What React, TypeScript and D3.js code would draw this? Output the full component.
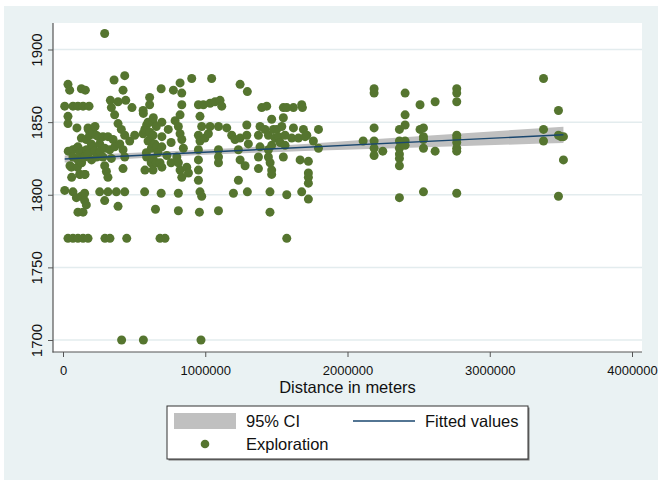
import React, { useEffect, useRef } from 'react'
import * as d3 from 'd3'

const yTicks = [1700, 1750, 1800, 1850, 1900]
const xTicks = [0, 1000000, 2000000, 3000000, 4000000]
const xTitle = 'Distance in meters'
const legendLabels = ['95% CI', 'Fitted values', 'Exploration']

// fitted line and 95% CI
const fitX = [12000, 3518000]
const fitY = [1824.6, 1841.3]
const ciX = [12000, 500000, 1000000, 1700000, 2500000, 3518000]
const ciLow = [1822.2, 1824.9, 1827.5, 1830.2, 1832.6, 1835.7]
const ciHigh = [1827.0, 1828.9, 1831.1, 1835.0, 1840.2, 1846.9]

// [distance in meters, value]
const exploration: [number, number][] = [
  [12000, 1861], [12000, 1803], [35000, 1876], [47000, 1872], [35000, 1854], [35000, 1849],
  [37000, 1830], [49000, 1820], [61000, 1812], [59000, 1819], [70000, 1861], [70000, 1831],
  [70000, 1826], [70000, 1802], [98000, 1846], [96000, 1832], [101000, 1819], [94000, 1798],
  [105000, 1861], [105000, 1833], [105000, 1824], [105000, 1788], [117000, 1814], [120000, 1829],
  [120000, 1814], [129000, 1873], [129000, 1839], [129000, 1799], [131000, 1822], [141000, 1861],
  [141000, 1830], [141000, 1788], [143000, 1826], [152000, 1826], [152000, 1814], [152000, 1801],
  [152000, 1796], [155000, 1814], [157000, 1872], [164000, 1838], [164000, 1793], [166000, 1831],
  [176000, 1846], [176000, 1828], [178000, 1845], [183000, 1861], [187000, 1841], [199000, 1835],
  [201000, 1824], [210000, 1843], [213000, 1833], [222000, 1830], [225000, 1847], [234000, 1841],
  [237000, 1826], [248000, 1840], [258000, 1835], [258000, 1802], [260000, 1830],
  [281000, 1840], [281000, 1826], [293000, 1911], [293000, 1832], [293000, 1820], [293000, 1796],
  [305000, 1816], [316000, 1840], [316000, 1812], [316000, 1802], [328000, 1831], [333000, 1865],
  [340000, 1860], [340000, 1825], [352000, 1838], [359000, 1879], [363000, 1855], [363000, 1833],
  [375000, 1802], [387000, 1864], [387000, 1849], [387000, 1792], [399000, 1835], [410000, 1845],
  [422000, 1872], [422000, 1831], [422000, 1818], [434000, 1882], [434000, 1841], [434000, 1826],
  [434000, 1802], [441000, 1865], [469000, 1837], [485000, 1860], [504000, 1841],
  [563000, 1858], [563000, 1842], [565000, 1856], [574000, 1802], [575000, 1845], [576000, 1817],
  [586000, 1829], [588000, 1848], [588000, 1826], [598000, 1850], [598000, 1837], [609000, 1862],
  [609000, 1867], [610000, 1843], [612000, 1838], [620000, 1822], [621000, 1832], [633000, 1850],
  [633000, 1841], [633000, 1825], [633000, 1817], [635000, 1853], [645000, 1835], [650000, 1790],
  [656000, 1847], [656000, 1822], [659000, 1833], [668000, 1829], [682000, 1822], [690000, 1873],
  [695000, 1850], [695000, 1840], [695000, 1833], [695000, 1819], [690000, 1801],
  [740000, 1845], [760000, 1836], [730000, 1827], [760000, 1822], [776000, 1872], [788000, 1851],
  [800000, 1826], [811000, 1847], [811000, 1822], [811000, 1801], [811000, 1789], [823000, 1877],
  [823000, 1855], [823000, 1842], [823000, 1817], [835000, 1870], [835000, 1862], [835000, 1838],
  [835000, 1812], [846000, 1832], [870000, 1819], [882000, 1815], [905000, 1880], [952000, 1862],
  [952000, 1841], [952000, 1831], [952000, 1824], [952000, 1817], [952000, 1810], [959000, 1788],
  [963000, 1854], [963000, 1837], [963000, 1802], [975000, 1847], [975000, 1799], [987000, 1862],
  [998000, 1839],
  [1022000, 1842], [1034000, 1863], [1034000, 1847], [1045000, 1880], [1069000, 1864], [1093000, 1847],
  [1093000, 1831], [1093000, 1826], [1093000, 1822], [1093000, 1789], [1104000, 1865], [1116000, 1861],
  [1151000, 1846], [1186000, 1841], [1198000, 1801], [1209000, 1838], [1233000, 1831], [1233000, 1810],
  [1245000, 1876], [1245000, 1839], [1245000, 1824], [1280000, 1820], [1292000, 1848], [1292000, 1841],
  [1296000, 1871], [1296000, 1802], [1303000, 1835], [1374000, 1841], [1374000, 1826], [1374000, 1818],
  [1385000, 1847], [1385000, 1833], [1397000, 1860],
  [1420000, 1845], [1432000, 1861], [1444000, 1841], [1444000, 1831], [1444000, 1826], [1455000, 1802],
  [1455000, 1788], [1456000, 1822], [1467000, 1852], [1467000, 1834], [1467000, 1817], [1467000, 1814],
  [1479000, 1845], [1491000, 1839], [1502000, 1845], [1514000, 1840], [1526000, 1836], [1538000, 1847],
  [1549000, 1860], [1549000, 1853], [1549000, 1826], [1561000, 1841], [1561000, 1834], [1573000, 1860],
  [1573000, 1800], [1573000, 1770], [1608000, 1839], [1620000, 1860], [1620000, 1846], [1655000, 1839],
  [1667000, 1824], [1678000, 1862], [1683000, 1860], [1678000, 1802], [1690000, 1845], [1702000, 1840],
  [1714000, 1841], [1725000, 1823], [1725000, 1815], [1725000, 1812], [1725000, 1808], [1725000, 1797],
  [1760000, 1837], [1796000, 1845], [1796000, 1832],
  [2110000, 1837], [2187000, 1873], [2187000, 1870], [2187000, 1846], [2187000, 1837], [2187000, 1832],
  [2187000, 1827], [2248000, 1830], [2365000, 1845], [2365000, 1837], [2365000, 1832], [2365000, 1828],
  [2365000, 1825], [2365000, 1820], [2365000, 1798], [2405000, 1870], [2405000, 1855], [2405000, 1848],
  [2405000, 1837], [2405000, 1834], [2510000, 1862], [2510000, 1845], [2534000, 1846], [2534000, 1840],
  [2534000, 1838], [2534000, 1832], [2534000, 1802], [2616000, 1864], [2616000, 1830],
  [2768000, 1873], [2768000, 1870], [2768000, 1864], [2768000, 1841], [2768000, 1839], [2768000, 1836],
  [2768000, 1832], [2768000, 1830], [2768000, 1801], [3378000, 1880], [3378000, 1845], [3378000, 1837],
  [3483000, 1858], [3483000, 1841], [3500000, 1840], [3518000, 1840], [3518000, 1824], [3483000, 1799],
  [35000, 1770], [70000, 1770], [105000, 1770], [141000, 1770], [176000, 1770], [295000, 1770],
  [330000, 1770], [448000, 1770], [682000, 1770], [717000, 1770],
  [412000, 1700], [565000, 1700], [970000, 1700],
]

const font = '"Liberation Sans", Arial, sans-serif'
const green = '#55752f'
const navy = '#1a476f'

const App = () => {
  const refSvg = useRef<SVGSVGElement>(null)

  useEffect(() => {
    const svg = d3.select(refSvg.current)
    svg.selectAll('*').remove()

    // outer + plot region
    svg.append('rect').attr('width', 658).attr('height', 480).attr('fill', '#ffffff')
    svg.append('rect').attr('x', 4).attr('y', 6).attr('width', 654).attr('height', 474).attr('fill', '#eaf2f3')
    svg.append('rect').attr('x', 53).attr('y', 23).attr('width', 589).attr('height', 329).attr('fill', '#ffffff')

    const x = d3.scaleLinear().domain([0, 4000000]).range([63, 632])
    const y = d3.scaleLinear().domain([1700, 1900]).range([340, 49.5])

    // gridlines
    svg
      .append('g')
      .selectAll('line')
      .data(yTicks)
      .join('line')
      .attr('x1', 53)
      .attr('x2', 642)
      .attr('y1', (d) => y(d))
      .attr('y2', (d) => y(d))
      .attr('stroke', '#e3ecee')
      .attr('stroke-width', 1.5)

    // y axis
    const gy = svg
      .append('g')
      .attr('transform', 'translate(53,0)')
      .call(d3.axisLeft(y).tickValues(yTicks).tickSize(5).tickFormat(d3.format('d')))
    gy.select('.domain').remove()
    gy.selectAll('line').attr('stroke', '#555')
    gy.selectAll('text')
      .attr('x', 0)
      .attr('y', -11)
      .attr('dy', 0)
      .attr('transform', 'rotate(-90)')
      .attr('text-anchor', 'middle')
      .attr('fill', '#111')
      .style('font-family', font)
      .style('font-size', '15px')

    // x axis
    const gx = svg
      .append('g')
      .attr('transform', 'translate(0,352)')
      .call(d3.axisBottom(x).tickValues(xTicks).tickSize(5).tickFormat(d3.format('d')))
    gx.select('.domain').remove()
    gx.selectAll('line').attr('stroke', '#555')
    gx.selectAll('text')
      .attr('y', 23)
      .attr('dy', 0)
      .attr('fill', '#111')
      .style('font-family', font)
      .style('font-size', '13px')

    svg.append('line').attr('x1', 53).attr('x2', 53).attr('y1', 23).attr('y2', 352.5).attr('stroke', '#555').attr('stroke-width', 1.2)
    svg.append('line').attr('x1', 52.5).attr('x2', 642).attr('y1', 352).attr('y2', 352).attr('stroke', '#555').attr('stroke-width', 1.2)

    svg
      .append('text')
      .attr('x', 347.5)
      .attr('y', 393)
      .attr('text-anchor', 'middle')
      .attr('fill', '#111')
      .style('font-family', font)
      .style('font-size', '16.5px')
      .text(xTitle)

    // 95% CI band
    const ci = ciX.map((cx, i) => ({ x: cx, lo: ciLow[i], hi: ciHigh[i] }))
    svg
      .append('path')
      .datum(ci)
      .attr('fill', '#c0c0c0')
      .attr(
        'd',
        d3
          .area<{ x: number; lo: number; hi: number }>()
          .curve(d3.curveMonotoneX)
          .x((d) => x(d.x))
          .y0((d) => y(d.lo))
          .y1((d) => y(d.hi))
      )

    svg
      .append('g')
      .selectAll('circle')
      .data(exploration)
      .join('circle')
      .attr('cx', (d) => x(d[0]))
      .attr('cy', (d) => y(d[1]))
      .attr('r', 4.5)
      .attr('fill', green)

    // fitted values
    svg
      .append('path')
      .datum(fitX.map((fx, i) => [fx, fitY[i]] as [number, number]))
      .attr('fill', 'none')
      .attr('stroke', navy)
      .attr('stroke-width', 1.4)
      .attr(
        'd',
        d3
          .line<[number, number]>()
          .x((d) => x(d[0]))
          .y((d) => y(d[1]))
      )

    // legend
    const lg = svg.append('g')
    lg.append('rect').attr('x', 168.5).attr('y', 407.5).attr('width', 361).attr('height', 53).attr('fill', '#7a7a7a')
    lg.append('rect').attr('x', 167).attr('y', 406).attr('width', 361).attr('height', 53).attr('fill', '#fff').attr('stroke', '#333').attr('stroke-width', 1)
    lg.append('rect').attr('x', 174).attr('y', 413).attr('width', 62).attr('height', 16).attr('fill', '#c0c0c0')
    lg.append('line').attr('x1', 353).attr('x2', 415).attr('y1', 421).attr('y2', 421).attr('stroke', navy).attr('stroke-width', 1.3)
    lg.append('circle').attr('cx', 205).attr('cy', 444).attr('r', 4.3).attr('fill', green)
    const legendPos = [
      [246, 427],
      [425, 427],
      [246, 450],
    ]
    legendLabels.forEach((label, i) => {
      lg.append('text')
        .attr('x', legendPos[i][0])
        .attr('y', legendPos[i][1])
        .attr('fill', '#111')
        .style('font-family', font)
        .style('font-size', '16.5px')
        .text(label)
    })
  }, [])

  return <svg ref={refSvg} width={658} height={480} style={{ position: 'absolute', left: 0, top: 0 }} />
}

export default App
